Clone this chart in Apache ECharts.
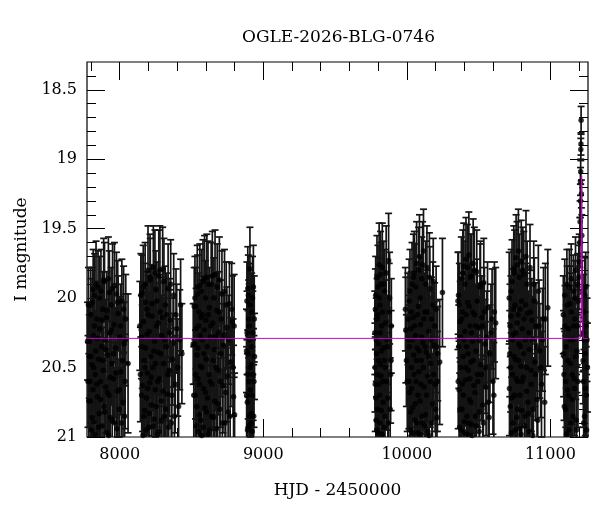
<!DOCTYPE html>
<html>
<head>
<meta charset="utf-8">
<script src="https://cdn.jsdelivr.net/npm/echarts@6/dist/echarts.min.js"></script>
<style>
  html, body { margin: 0; padding: 0; background: #fff; }
  #chart { width: 600px; height: 512px; }
</style>
</head>
<body>
<div id="chart"></div>
<script>
// photometry per observing season: [HJD-2450000, I mag, error]
var season1 = [[7776,20.31,0.28],[7779,20.6,0.33],[7782,20.05,0.27],[7785,20.74,0.34],[7788,20.42,0.3],[7791,20.31,0.28],[7795,20.74,0.34],[7799,20.12,0.26],[7802,20.95,0.38],[7806,20.48,0.3],[7810,20.03,0.25],[7813,20.66,0.33],[7817,20.27,0.28],[7821,20.89,0.37],[7825,19.98,0.3],[7829,20.55,0.31],[7833,20.38,0.29],[7837,21.04,0.4],[7841,20.15,0.27],[7845,20.71,0.34],[7849,19.92,0.26],[7853,20.44,0.3],[7857,20.83,0.36],[7861,20.22,0.28],[7865,20.6,0.32],[7869,19.95,0.3],[7873,20.35,0.29],[7877,20.92,0.38],[7882,20.08,0.27],[7886,20.52,0.31],[7890,20.78,0.35],[7894,19.88,0.28],[7899,20.3,0.29],[7903,20.64,0.33],[7908,20.14,0.27],[7912,20.97,0.39],[7917,20.41,0.3],[7921,19.86,0.3],[7926,20.7,0.34],[7930,20.25,0.28],[7935,20.86,0.37],[7940,20.05,0.27],[7945,20.47,0.3],[7950,19.93,0.32],[7955,20.58,0.32],[7960,20.19,0.27],[7966,20.9,0.38],[7971,20.36,0.29],[7977,19.97,0.3],[7983,20.67,0.33],[7989,20.11,0.27],[7995,20.8,0.36],[8001,20.28,0.29],[8008,20.53,0.31],[8015,20.02,0.3],[8023,20.75,0.35],[8031,20.33,0.3],[8038,20.6,0.34],[8042,20.15,0.32],[8058,20.47,0.5],
  [7793,20.6,0.33],[7797,20.05,0.27],[7801,20.42,0.3],[7808,20.86,0.37],[7815,19.94,0.29],[7819,20.5,0.31],[7823,20.2,0.28],[7827,20.98,0.4],[7835,19.9,0.31],[7839,20.62,0.33],[7847,20.29,0.29],[7851,20.93,0.39],[7859,20.0,0.3],[7867,20.73,0.35],[7875,20.16,0.28],[7880,20.45,0.3],[7888,19.87,0.3],[7896,20.82,0.37],[7901,20.37,0.3],[7910,20.09,0.28],[7914,20.68,0.34],[7923,20.99,0.4],[7928,19.96,0.3],[7933,20.57,0.32],[7943,20.23,0.28],[7948,20.88,0.38],[7958,20.4,0.31],[7963,19.91,0.31],[7974,20.54,0.32],[7980,20.94,0.39],[7986,20.03,0.3],[7998,20.66,0.34],[8005,20.2,0.3],[8012,20.9,0.39],[8019,20.45,0.32],[8027,20.08,0.31],[8034,20.85,0.38],[8040,20.3,0.33]];
var season2 = [[8140,20.2,0.32],[8144,20.55,0.34],[8147,19.98,0.3],[8151,20.28,0.3],[8155,19.96,0.27],[8159,20.63,0.33],[8162,20.99,0.4],[8166,20.17,0.28],[8170,20.45,0.3],[8173,20.81,0.37],[8177,19.9,0.3],[8181,20.36,0.29],[8185,20.72,0.35],[8189,20.08,0.27],[8193,20.54,0.32],[8197,19.8,0.32],[8201,20.93,0.39],[8205,20.24,0.28],[8209,20.61,0.33],[8213,19.87,0.3],[8217,20.42,0.3],[8221,20.77,0.36],[8226,20.13,0.28],[8230,20.5,0.31],[8234,19.78,0.3],[8239,20.87,0.38],[8243,20.31,0.29],[8248,20.66,0.34],[8252,19.94,0.28],[8257,20.2,0.28],[8262,20.98,0.4],[8267,20.39,0.3],[8272,19.84,0.33],[8277,20.58,0.32],[8282,20.1,0.27],[8288,20.74,0.35],[8293,20.27,0.29],[8299,19.79,0.3],[8305,20.47,0.31],[8311,20.85,0.37],[8317,20.05,0.28],[8323,20.35,0.3],[8330,20.69,0.34],[8337,19.93,0.32],[8344,20.52,0.33],[8351,20.16,0.3],[8359,20.9,0.38],[8367,20.44,0.33],[8376,19.98,0.3],[8386,20.62,0.35],[8397,20.22,0.32],[8410,20.78,0.37],[8424,20.05,0.33],[8433,20.4,0.36],
  [8153,20.7,0.35],[8157,20.35,0.3],[8164,19.92,0.3],[8168,20.85,0.37],[8175,20.5,0.31],[8179,20.03,0.28],[8183,20.95,0.4],[8191,20.26,0.29],[8195,20.65,0.34],[8199,20.12,0.28],[8207,20.83,0.37],[8211,19.85,0.31],[8219,20.57,0.32],[8224,20.04,0.28],[8232,20.92,0.39],[8236,20.38,0.3],[8245,19.82,0.31],[8250,20.47,0.31],[8254,20.78,0.36],[8259,20.02,0.28],[8264,20.6,0.33],[8269,20.18,0.29],[8275,20.96,0.4],[8280,19.8,0.32],[8285,20.4,0.3],[8290,20.88,0.38],[8296,20.14,0.29],[8302,20.67,0.34],[8308,19.88,0.31],[8314,20.3,0.3],[8320,20.8,0.37],[8327,20.12,0.3],[8334,20.55,0.33],[8341,20.93,0.39],[8348,20.25,0.31],[8355,19.9,0.32],[8363,20.7,0.36],[8372,20.32,0.32],[8381,20.85,0.38],[8392,20.12,0.33],[8404,20.5,0.35],[8418,20.3,0.36]];
var season3 = [[8512,20.33,0.29],[8516,20.7,0.35],[8519,20.06,0.28],[8522,20.33,0.29],[8526,20.7,0.35],[8530,20.06,0.28],[8534,20.92,0.39],[8538,20.41,0.3],[8542,19.97,0.28],[8546,20.58,0.32],[8550,20.2,0.28],[8554,20.84,0.37],[8558,19.91,0.3],[8563,20.49,0.31],[8567,20.14,0.27],[8571,20.99,0.4],[8575,20.3,0.29],[8580,19.88,0.3],[8584,20.65,0.34],[8589,20.23,0.28],[8593,20.79,0.36],[8598,20.0,0.27],[8602,20.44,0.3],[8607,19.85,0.31],[8612,20.72,0.35],[8617,20.12,0.28],[8622,20.55,0.32],[8627,20.95,0.39],[8632,20.28,0.29],[8637,19.9,0.3],[8642,20.62,0.33],[8648,20.18,0.28],[8653,20.86,0.37],[8659,20.37,0.3],[8664,19.83,0.32],[8670,20.5,0.31],[8676,20.09,0.27],[8682,20.76,0.36],[8688,20.25,0.29],[8694,19.87,0.31],[8701,20.6,0.33],[8708,20.15,0.28],[8715,20.9,0.38],[8722,20.34,0.3],[8730,19.95,0.3],[8738,20.68,0.34],[8746,20.21,0.29],[8755,20.82,0.37],[8764,20.04,0.3],[8774,20.46,0.32],[8785,20.17,0.33],[8793,20.71,0.37],[8800,20.84,0.3],
  [8524,20.0,0.3],[8528,20.55,0.32],[8532,20.22,0.29],[8536,20.78,0.36],[8540,19.92,0.3],[8544,20.36,0.3],[8548,20.96,0.4],[8552,20.1,0.28],[8556,20.62,0.33],[8561,20.27,0.29],[8565,20.88,0.38],[8569,19.95,0.3],[8573,20.5,0.31],[8578,20.12,0.28],[8582,20.93,0.39],[8587,20.4,0.3],[8591,19.86,0.31],[8596,20.68,0.34],[8600,20.16,0.28],[8605,20.82,0.37],[8610,20.35,0.3],[8615,19.9,0.31],[8620,20.98,0.4],[8625,20.07,0.29],[8630,20.6,0.33],[8635,20.2,0.29],[8640,20.85,0.37],[8645,19.84,0.32],[8651,20.45,0.31],[8656,20.0,0.29],[8662,20.74,0.35],[8667,20.28,0.3],[8673,20.94,0.39],[8679,19.92,0.31],[8685,20.52,0.32],[8691,20.1,0.29],[8698,20.8,0.37],[8705,20.4,0.31],[8712,19.97,0.31],[8719,20.63,0.34],[8726,20.27,0.31],[8734,20.9,0.39],[8742,20.05,0.31],[8750,20.56,0.33],[8759,20.3,0.32],[8769,20.85,0.38],[8780,20.08,0.33],[8789,20.5,0.35],[8797,20.2,0.37]];
var season4 = [[8883,20.38,0.3],[8886,20.02,0.28],[8889,20.75,0.35],[8892,19.93,0.3],[8895,20.55,0.32],[8898,20.15,0.28],[8901,20.92,0.38],[8904,20.3,0.29],[8907,19.79,0.3],[8910,20.66,0.34],[8913,20.48,0.31],[8916,20.83,0.36],[8919,20.1,0.28],[8923,20.96,0.39],[8927,20.25,0.3],[8931,19.92,0.3],[8935,20.6,0.33],[8939,20.42,0.31],
  [8884,20.7,0.35],[8887,20.25,0.3],[8890,20.95,0.4],[8893,20.4,0.31],[8896,19.98,0.29],[8899,20.6,0.33],[8902,20.2,0.3],[8905,20.85,0.37],[8908,20.5,0.32],[8911,20.05,0.3],[8914,20.9,0.38],[8917,20.35,0.31],[8921,20.7,0.35],[8925,20.0,0.3],[8929,20.55,0.33],[8933,20.85,0.37],[8937,20.15,0.31]];
var season5 = [[9777,20.25,0.3],[9780,20.62,0.34],[9783,19.98,0.28],[9786,20.88,0.38],[9789,20.4,0.31],[9792,19.85,0.3],[9795,20.55,0.33],[9798,20.12,0.29],[9801,20.97,0.4],[9804,20.33,0.3],[9807,19.76,0.3],[9810,20.7,0.35],[9813,20.05,0.28],[9816,20.48,0.32],[9819,19.9,0.3],[9822,20.81,0.37],[9825,20.2,0.29],[9829,19.78,0.32],[9833,20.6,0.34],[9837,20.36,0.31],[9841,20.93,0.39],[9845,19.95,0.3],[9850,20.5,0.33],[9856,19.82,0.34],[9862,20.3,0.32],[9868,20.72,0.36],[9873,19.73,0.34],[9880,20.0,0.33],[9887,20.55,0.35],[9892,20.2,0.34],
  [9778,20.5,0.32],[9781,20.08,0.29],[9784,20.72,0.35],[9787,20.3,0.3],[9790,20.95,0.4],[9793,20.15,0.29],[9796,20.8,0.37],[9799,19.92,0.3],[9802,20.45,0.31],[9805,20.62,0.34],[9808,20.0,0.29],[9811,20.9,0.38],[9814,20.25,0.3],[9817,19.83,0.31],[9820,20.56,0.33],[9823,20.38,0.31],[9827,20.98,0.4],[9831,20.1,0.3],[9835,20.75,0.36],[9839,19.9,0.31],[9843,20.45,0.32],[9848,20.85,0.38],[9853,20.18,0.31],[9859,20.6,0.35],[9865,20.35,0.33],[9871,20.9,0.38],[9877,20.1,0.35],[9884,20.8,0.37],[9890,20.45,0.36]];
var season6 = [[9990,20.08,0.3],[9993,20.23,0.38],[9997,20.45,0.33],[10003,20.6,0.36],[10008,20.15,0.33],[10012,20.3,0.32],[10016,20.02,0.3],[10020,20.68,0.35],[10024,20.95,0.4],[10028,20.22,0.29],[10032,20.5,0.32],[10036,19.9,0.3],[10040,20.79,0.37],[10044,20.14,0.29],[10048,20.41,0.31],[10052,19.82,0.3],[10056,20.88,0.38],[10060,20.27,0.29],[10064,20.6,0.33],[10068,19.75,0.3],[10072,20.36,0.3],[10076,20.97,0.4],[10080,20.06,0.28],[10084,20.53,0.32],[10088,19.7,0.3],[10092,20.74,0.36],[10096,20.19,0.29],[10100,20.45,0.31],[10104,19.86,0.3],[10108,20.9,0.38],[10112,20.32,0.3],[10116,19.66,0.3],[10120,20.64,0.34],[10125,20.1,0.28],[10130,20.84,0.37],[10135,20.39,0.31],[10140,19.78,0.3],[10145,20.56,0.33],[10150,20.24,0.29],[10155,20.99,0.4],[10160,19.93,0.3],[10166,20.47,0.32],[10172,20.15,0.3],[10178,20.76,0.36],[10184,19.88,0.31],[10190,20.34,0.31],[10197,20.62,0.34],[10204,20.08,0.31],[10210,20.86,0.38],[10215,20.4,0.34],[10229,20.46,0.45],[10248,19.96,0.39],
  [10014,20.6,0.34],[10018,20.35,0.3],[10022,19.95,0.3],[10026,20.82,0.37],[10030,20.1,0.29],[10034,20.65,0.34],[10038,20.3,0.3],[10042,20.97,0.4],[10046,19.85,0.31],[10050,20.55,0.32],[10054,20.2,0.29],[10058,20.76,0.36],[10062,19.92,0.31],[10066,20.45,0.31],[10070,20.9,0.38],[10074,20.12,0.29],[10078,20.7,0.35],[10082,19.8,0.31],[10086,20.38,0.3],[10090,20.98,0.4],[10094,20.0,0.3],[10098,20.62,0.33],[10102,20.28,0.3],[10106,20.85,0.37],[10110,19.76,0.31],[10114,20.5,0.32],[10118,20.15,0.29],[10122,20.92,0.39],[10127,20.35,0.31],[10132,19.9,0.31],[10137,20.7,0.35],[10142,20.1,0.3],[10147,20.96,0.4],[10152,20.42,0.31],[10157,19.85,0.32],[10163,20.6,0.33],[10169,20.3,0.31],[10175,20.9,0.38],[10181,20.05,0.31],[10187,20.55,0.33],[10194,20.2,0.31],[10201,20.8,0.37],[10207,20.35,0.33],[10213,20.6,0.36]];
var season7 = [[10356,20.02,0.35],[10360,19.98,0.31],[10364,20.66,0.35],[10368,20.93,0.39],[10372,20.17,0.29],[10376,20.5,0.32],[10380,19.86,0.3],[10384,20.8,0.37],[10388,20.1,0.28],[10392,20.42,0.31],[10396,19.77,0.31],[10400,20.89,0.38],[10404,20.24,0.29],[10408,20.59,0.33],[10412,19.72,0.3],[10416,20.35,0.3],[10420,20.98,0.4],[10424,20.03,0.28],[10428,20.52,0.32],[10432,19.69,0.31],[10436,20.73,0.36],[10440,20.2,0.29],[10444,20.46,0.31],[10448,19.84,0.3],[10452,20.91,0.38],[10457,20.31,0.3],[10462,19.75,0.32],[10467,20.63,0.34],[10472,20.12,0.29],[10477,20.85,0.37],[10482,20.38,0.31],[10487,19.81,0.3],[10492,20.55,0.33],[10498,20.21,0.29],[10504,20.96,0.4],[10510,19.92,0.31],[10516,20.48,0.32],[10522,20.14,0.3],[10529,20.77,0.36],[10536,19.89,0.32],[10544,20.33,0.32],[10552,20.64,0.35],[10562,20.07,0.33],[10573,20.86,0.38],[10586,20.25,0.35],[10600,20.6,0.38],[10610,20.1,0.36],[10619,20.18,0.4],
  [10358,20.6,0.34],[10362,20.35,0.3],[10366,20.05,0.3],[10370,20.8,0.37],[10374,20.28,0.3],[10378,20.95,0.4],[10382,20.15,0.29],[10386,20.62,0.33],[10390,19.82,0.31],[10394,20.7,0.35],[10398,20.3,0.3],[10402,20.97,0.4],[10406,19.9,0.31],[10410,20.5,0.32],[10414,20.12,0.29],[10418,20.85,0.37],[10422,19.78,0.31],[10426,20.4,0.31],[10430,20.9,0.38],[10434,20.06,0.3],[10438,20.58,0.33],[10442,19.85,0.31],[10446,20.75,0.36],[10450,20.25,0.3],[10455,20.99,0.4],[10460,20.1,0.3],[10465,20.45,0.32],[10470,19.8,0.31],[10475,20.68,0.35],[10480,20.2,0.3],[10485,20.92,0.39],[10490,20.02,0.3],[10495,20.6,0.33],[10501,20.3,0.31],[10507,20.82,0.37],[10513,19.9,0.31],[10519,20.55,0.33],[10526,20.2,0.31],[10533,20.9,0.38],[10540,20.1,0.32],[10548,20.5,0.33],[10557,20.28,0.33],[10567,20.75,0.37],[10579,20.4,0.35],[10594,20.15,0.36],[10606,20.7,0.38]];
var season8 = [[10713,20.0,0.33],[10717,20.4,0.31],[10721,20.78,0.36],[10725,20.13,0.29],[10729,20.97,0.4],[10733,19.88,0.3],[10737,20.55,0.33],[10741,20.26,0.29],[10745,19.79,0.31],[10749,20.7,0.35],[10753,20.05,0.28],[10757,20.44,0.31],[10761,19.71,0.31],[10765,20.86,0.37],[10769,20.18,0.29],[10773,20.6,0.33],[10777,19.66,0.3],[10781,20.33,0.3],[10785,20.94,0.39],[10789,20.08,0.28],[10793,20.49,0.32],[10797,19.74,0.3],[10801,20.81,0.37],[10805,20.22,0.29],[10810,20.57,0.33],[10815,19.83,0.31],[10820,20.92,0.38],[10825,20.3,0.3],[10830,19.7,0.33],[10835,20.67,0.35],[10840,20.11,0.29],[10846,20.83,0.37],[10852,20.37,0.31],[10858,19.78,0.31],[10864,20.52,0.33],[10870,20.16,0.3],[10877,20.99,0.4],[10884,19.9,0.31],[10891,20.46,0.32],[10899,20.2,0.31],[10907,20.73,0.36],[10916,19.95,0.33],[10926,20.38,0.34],[10938,20.62,0.38],[10952,20.15,0.37],[10965,20.15,0.4],[10982,20.07,0.42],
  [10715,20.65,0.34],[10719,20.2,0.3],[10723,20.5,0.32],[10727,19.95,0.3],[10731,20.72,0.36],[10735,20.3,0.3],[10739,20.9,0.38],[10743,20.08,0.29],[10747,20.42,0.31],[10751,19.82,0.31],[10755,20.95,0.4],[10759,20.25,0.3],[10763,20.58,0.33],[10767,19.76,0.31],[10771,20.8,0.37],[10775,20.12,0.29],[10779,20.45,0.31],[10783,19.85,0.31],[10787,20.7,0.35],[10791,20.35,0.3],[10795,20.98,0.4],[10799,20.02,0.3],[10803,20.6,0.33],[10808,19.8,0.31],[10813,20.4,0.31],[10818,20.15,0.3],[10823,20.85,0.37],[10828,20.05,0.3],[10833,20.5,0.32],[10838,19.9,0.31],[10843,20.75,0.36],[10849,20.25,0.3],[10855,20.96,0.4],[10861,20.1,0.3],[10867,20.62,0.34],[10874,20.3,0.31],[10881,20.8,0.37],[10888,20.02,0.31],[10895,20.55,0.33],[10903,20.35,0.32],[10912,20.88,0.38],[10921,20.2,0.33],[10932,20.5,0.36],[10945,20.3,0.37],[10960,20.75,0.4]];
var season9 = [[11090,20.12,0.28],[11095,20.55,0.33],[11100,19.98,0.26],[11105,20.8,0.37],[11110,20.35,0.3],[11115,19.9,0.25],[11120,20.66,0.35],[11125,20.22,0.28],[11130,20.95,0.4],[11135,20.04,0.27],[11140,20.47,0.31],[11145,19.86,0.25],[11150,20.73,0.36],[11155,20.3,0.29],[11160,19.95,0.26],[11165,20.58,0.33],[11170,20.15,0.28],[11175,19.8,0.24],[11180,20.88,0.39],[11185,20.38,0.3],[11190,19.9,0.22],[11196,20.02,0.25],[11201,19.74,0.2],[11205,19.6,0.18],[11207,19.45,0.15],[11209,19.3,0.12],[11210,19.16,0.1],[11211,19.09,0.09],[11212,18.93,0.08],[11213,18.89,0.08],[11214,18.72,0.1],[11216,19.25,0.1],[11219,19.55,0.15],[11222,19.95,0.22],[11226,20.25,0.28],[11230,20.6,0.33],[11234,20.1,0.27],[11238,20.85,0.38],[11242,20.4,0.3],[11246,19.92,0.25],[11250,20.7,0.35],[11255,20.3,0.3],
  [11092,20.4,0.31],[11097,20.78,0.36],[11102,20.2,0.29],[11107,20.6,0.33],[11112,20.98,0.4],[11117,20.05,0.28],[11122,20.45,0.31],[11127,20.7,0.35],[11132,19.92,0.27],[11137,20.3,0.3],[11142,20.9,0.38],[11147,20.1,0.28],[11152,20.55,0.32],[11157,20.85,0.37],[11162,20.2,0.29],[11167,20.65,0.34],[11172,20.0,0.27],[11177,20.42,0.31],[11182,20.95,0.4],[11187,20.2,0.28],[11192,20.6,0.33],[11198,19.85,0.23],[11228,20.45,0.31],[11232,20.9,0.38],[11236,20.3,0.3],[11240,19.98,0.27],[11244,20.65,0.34],[11248,20.2,0.29],[11252,20.95,0.4],[11258,20.5,0.32]];

// microlensing model curve
var modelCurve = [[7772,20.29],[11208,20.29],[11214,20.05],[11218,19.12],[11222,20.05],[11228,20.29],[11262,20.29]];

var xMajorTicks = [8000, 9000, 10000, 11000];
var xMinorTicks = [7800, 8200, 8400, 8600, 8800, 9200, 9400, 9600, 9800, 10200, 10400, 10600, 10800, 11200];
var yMajorTicks = [18.5, 19, 19.5, 20, 20.5, 21];
var yMinorTicks = [18.4, 18.6, 18.7, 18.8, 18.9, 19.1, 19.2, 19.3, 19.4, 19.6, 19.7, 19.8, 19.9, 20.1, 20.2, 20.3, 20.4, 20.6, 20.7, 20.8, 20.9];

var X_MIN = 7772, X_MAX = 11262, Y_MIN = 18.3, Y_MAX = 21;
var FONT = 'DejaVu Serif';

var allPoints = [].concat(season1, season2, season3, season4, season5, season6, season7, season8, season9);

function plain(v) { return String(v); }

function xAxisDef(pos, ticks, len, withLabels) {
  var ax = {
    type: 'value', position: pos, min: X_MIN, max: X_MAX,
    axisLine: { show: false },
    splitLine: { show: false },
    axisTick: { show: true, inside: true, length: len, customValues: ticks, lineStyle: { color: '#000', width: 1 } },
    axisLabel: { show: false }
  };
  if (withLabels) {
    ax.axisLabel = { show: true, customValues: ticks, margin: 10, color: '#000', fontFamily: FONT, fontSize: 16, formatter: plain };
    ax.name = 'HJD - 2450000';
    ax.nameLocation = 'middle';
    ax.nameGap = 45;
    ax.nameTextStyle = { color: '#000', fontFamily: FONT, fontSize: 17 };
  }
  return ax;
}

function yAxisDef(pos, ticks, len, withLabels) {
  var ax = {
    type: 'value', position: pos, inverse: true, min: Y_MIN, max: Y_MAX,
    axisLine: { show: false },
    splitLine: { show: false },
    axisTick: { show: true, inside: true, length: len, customValues: ticks, lineStyle: { color: '#000', width: 1 } },
    axisLabel: { show: false }
  };
  if (withLabels) {
    ax.axisLabel = { show: true, customValues: ticks, margin: 10, color: '#000', fontFamily: FONT, fontSize: 16, formatter: plain };
    ax.name = 'I magnitude';
    ax.nameLocation = 'middle';
    ax.nameGap = 54;
    ax.nameTextStyle = { color: '#000', fontFamily: FONT, fontSize: 17 };
  }
  return ax;
}

var chart = echarts.init(document.getElementById('chart'), null, { renderer: 'canvas' });

chart.setOption({
  backgroundColor: '#fff',
  animation: false,
  title: {
    text: 'OGLE-2026-BLG-0746',
    left: 237, top: 24,
    textStyle: { color: '#000', fontFamily: FONT, fontSize: 17, fontWeight: 'normal' }
  },
  grid: { left: 87, right: 12, top: 62, bottom: 75, show: true, borderColor: '#000', borderWidth: 1.2, backgroundColor: 'transparent' },
  xAxis: [
    xAxisDef('bottom', xMajorTicks, 18, true),
    xAxisDef('bottom', xMinorTicks, 9, false),
    xAxisDef('top', xMajorTicks, 18, false),
    xAxisDef('top', xMinorTicks, 9, false)
  ],
  yAxis: [
    yAxisDef('left', yMajorTicks, 18, true),
    yAxisDef('left', yMinorTicks, 9, false),
    yAxisDef('right', yMajorTicks, 18, false),
    yAxisDef('right', yMinorTicks, 9, false)
  ],
  series: [
    {
      type: 'custom',
      name: 'errors',
      xAxisIndex: 0, yAxisIndex: 0,
      data: allPoints,
      encode: { x: 0, y: 1 },
      silent: true,
      z: 2,
      renderItem: function (params, api) {
        var cs = params.coordSys;
        var x = api.value(0), m = api.value(1), e = api.value(2);
        var top = api.coord([x, m - e]);
        var bot = api.coord([x, m + e]);
        var yTop = Math.max(top[1], cs.y), yBot = Math.min(bot[1], cs.y + cs.height);
        var w = 3.5;
        var st = { stroke: '#141414', lineWidth: 1.7 };
        var kids = [{ type: 'line', shape: { x1: top[0], y1: yTop, x2: bot[0], y2: yBot }, style: st }];
        if (top[1] >= cs.y) kids.push({ type: 'line', shape: { x1: top[0] - w, y1: top[1], x2: top[0] + w, y2: top[1] }, style: st });
        if (bot[1] <= cs.y + cs.height) kids.push({ type: 'line', shape: { x1: bot[0] - w, y1: bot[1], x2: bot[0] + w, y2: bot[1] }, style: st });
        return { type: 'group', children: kids };
      }
    },
    {
      type: 'scatter',
      name: 'points',
      xAxisIndex: 0, yAxisIndex: 0,
      data: allPoints.map(function (p) { return [p[0], p[1]]; }),
      symbol: 'circle',
      symbolSize: 5.5,
      itemStyle: { color: '#000' },
      silent: true,
      z: 3
    },
    {
      type: 'line',
      name: 'model',
      xAxisIndex: 0, yAxisIndex: 0,
      data: modelCurve,
      showSymbol: false,
      lineStyle: { color: '#cc00cc', width: 1 },
      silent: true,
      z: 5
    }
  ]
});
</script>
</body>
</html>
